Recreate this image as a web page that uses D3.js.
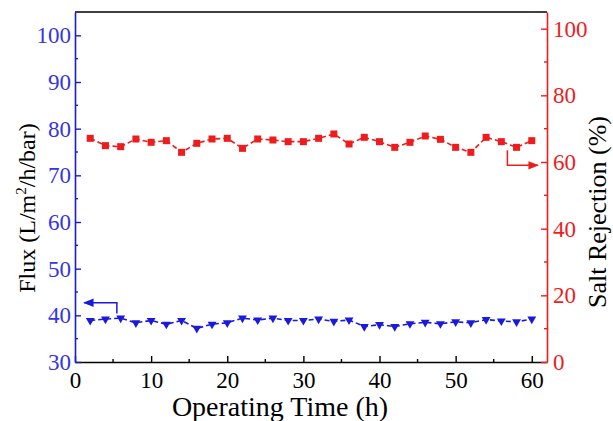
<!DOCTYPE html>
<html>
<head>
<meta charset="utf-8">
<script src="https://cdn.jsdelivr.net/npm/d3@7"></script>
<style>
  body { margin: 0; background: #fff; }
  svg, svg text { font-family: 'Liberation Serif', 'DejaVu Serif', 'Noto Serif', serif; }
</style>
</head>
<body>
<svg width="613" height="421"></svg>
<script>
// time in hours
let hours = [2,4,6,8,10,12,14,16,18,20,22,24,26,28,30,32,34,36,38,40,42,44,46,48,50,52,54,56,58,60];
// flux, L/m2/h/bar (left axis)
let flux = [38.9,39.2,39.4,38.4,38.9,38.1,38.9,37.2,38.1,38.4,39.4,39.0,39.4,38.9,38.9,39.2,38.7,39.0,37.6,38.0,37.6,38.2,38.5,38.2,38.6,38.4,39.1,38.8,38.6,39.2];
// salt rejection, % (right axis)
let rejection = [67.1,64.9,64.6,66.9,65.9,66.4,62.9,65.6,66.9,67.1,64.1,66.9,66.6,66.1,66.1,67.1,68.4,65.4,67.4,66.1,64.4,65.9,67.8,66.8,64.4,62.9,67.4,66.1,64.4,66.4];

let xTicks = [0,10,20,30,40,50,60];
let fluxTicks = [30,40,50,60,70,80,90,100];
let rejTicks = [0,20,40,60,80,100];

let blue = '#1a1adc';
let red = '#ee1c1c';
let serif = "'Liberation Serif', 'DejaVu Serif', 'Noto Serif', serif";

let svg = d3.select('svg');
let mLeft = 75, mRight = 547, mTop = 12, mBottom = 362;

let x = d3.scaleLinear().domain([0, 62]).range([mLeft, mRight]);
let yL = d3.scaleLinear().domain([30, 105]).range([mBottom, mTop]);
let yR = d3.scaleLinear().domain([0, 105]).range([mBottom, mTop]);

// frame: top in black
svg.append('line').attr('x1', mLeft).attr('x2', mRight).attr('y1', mTop).attr('y2', mTop).attr('stroke', '#000').attr('stroke-width', 1.5);

function inwardAxis(axis, g, color, major) {
  g.call(axis.tickValues(major).tickSize(-6).tickSizeOuter(0).tickPadding(6));
  g.attr('font-family', null).attr('font-size', 23);
  g.select('.domain').attr('stroke', color).attr('stroke-width', 1.6);
  g.selectAll('.tick line').attr('stroke', color).attr('stroke-width', 1.4);
  g.selectAll('.tick text').attr('fill', color).style('font-family', serif);
}

let gx = svg.append('g').attr('transform', `translate(0,${mBottom})`);
inwardAxis(d3.axisBottom(x), gx, '#000', xTicks);
gx.selectAll('.tick text').attr('dy', '0.85em');
gx.selectAll('.minor').data(d3.range(5, 61, 10)).join('line')
  .attr('x1', d => x(d)).attr('x2', d => x(d)).attr('y1', 0).attr('y2', -3)
  .attr('stroke', '#000').attr('stroke-width', 1.4);

let gl = svg.append('g').attr('transform', `translate(${mLeft},0)`);
inwardAxis(d3.axisLeft(yL), gl, blue, fluxTicks);
gl.selectAll('.tick text').attr('fill', '#3535e6').attr('dx', 2);
gl.selectAll('.minor').data(d3.range(35, 105, 10)).join('line')
  .attr('x1', 0).attr('x2', 3).attr('y1', d => yL(d)).attr('y2', d => yL(d))
  .attr('stroke', blue).attr('stroke-width', 1.4);

let gr = svg.append('g').attr('transform', `translate(${mRight},0)`);
inwardAxis(d3.axisRight(yR), gr, red, rejTicks);
gr.selectAll('.minor').data(d3.range(10, 105, 20)).join('line')
  .attr('x1', 0).attr('x2', -3).attr('y1', d => yR(d)).attr('y2', d => yR(d))
  .attr('stroke', red).attr('stroke-width', 1.4);

// series lines
let rejLine = d3.line().x((d, i) => x(hours[i])).y(d => yR(d));
let fluxLine = d3.line().x((d, i) => x(hours[i])).y(d => yL(d));

svg.append('path').datum(rejection).attr('d', rejLine)
  .attr('fill', 'none').attr('stroke', red).attr('stroke-width', 1.6).attr('stroke-dasharray', '5,3');
svg.append('path').datum(flux).attr('d', fluxLine)
  .attr('fill', 'none').attr('stroke', blue).attr('stroke-width', 1.6).attr('stroke-dasharray', '5,3');

svg.selectAll('.sq').data(rejection).join('rect')
  .attr('x', (d, i) => x(hours[i]) - 3.5).attr('y', d => yR(d) - 3.5)
  .attr('width', 7).attr('height', 7).attr('fill', red);

let tri = d3.symbol().type(d3.symbolTriangle).size(34);
svg.selectAll('.tri').data(flux).join('path')
  .attr('d', tri)
  .attr('transform', (d, i) => `translate(${x(hours[i])},${yL(d)}) rotate(180)`)
  .attr('fill', blue);

// arrows pointing at each series' axis
let defs = svg.append('defs');
[['ahBlue', blue], ['ahRed', red]].forEach(([id, c]) => {
  defs.append('marker').attr('id', id).attr('viewBox', '0 0 10 10').attr('refX', 9).attr('refY', 5)
    .attr('markerWidth', 7).attr('markerHeight', 7).attr('orient', 'auto-start-reverse')
    .append('path').attr('d', 'M0,1 L10,5 L0,9 Z').attr('fill', c);
});

svg.append('path')
  .attr('d', `M${x(5.5)},${yL(40.4)} V${yL(42.7)} H${x(1.2)}`)
  .attr('fill', 'none').attr('stroke', blue).attr('stroke-width', 1.5).attr('marker-end', 'url(#ahBlue)');
svg.append('path')
  .attr('d', `M${x(56.8)},${yR(63.5)} V${yR(59)} H${x(60.8)}`)
  .attr('fill', 'none').attr('stroke', red).attr('stroke-width', 1.5).attr('marker-end', 'url(#ahRed)');

// axis titles
svg.append('text').attr('x', 280).attr('y', 416).attr('text-anchor', 'middle')
  .attr('font-size', 28).text('Operating Time (h)');

let yt = svg.append('text').attr('transform', `translate(35,208) rotate(-90)`)
  .attr('text-anchor', 'middle').attr('font-size', 24);
yt.append('tspan').text('Flux (L/m');
yt.append('tspan').attr('font-size', 15).attr('dy', -9).text('2');
yt.append('tspan').attr('dy', 9).text('/h/bar)');

svg.append('text').attr('transform', `translate(606,212) rotate(-90)`)
  .attr('text-anchor', 'middle').attr('font-size', 26).text('Salt Rejection (%)');
</script>
</body>
</html>
